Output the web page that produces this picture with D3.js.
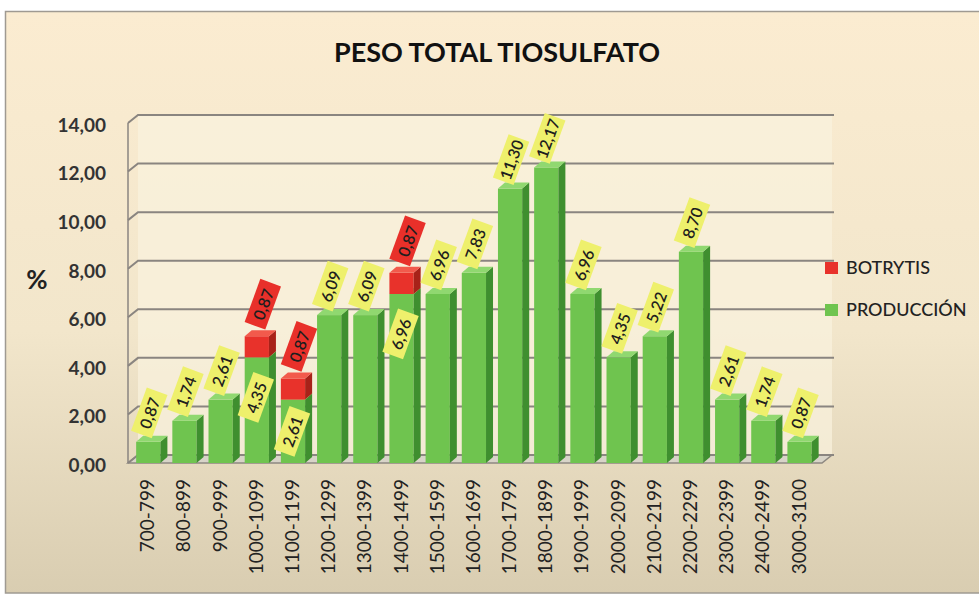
<!DOCTYPE html>
<html>
<head>
<meta charset="utf-8">
<script src="https://cdn.jsdelivr.net/npm/d3@7"></script>
<style>
  body { margin: 0; background: #fff; }
  svg { display: block; font-family: Lato, "Open Sans", sans-serif; }
</style>
</head>
<body>
<div id="chart"></div>
<script>
// categories (weight ranges) and the two stacked series
const categories = ["700-799", "800-899", "900-999", "1000-1099", "1100-1199", "1200-1299",
  "1300-1399", "1400-1499", "1500-1599", "1600-1699", "1700-1799", "1800-1899", "1900-1999",
  "2000-2099", "2100-2199", "2200-2299", "2300-2399", "2400-2499", "3000-3100"];
const produccion = [0.87, 1.74, 2.61, 4.35, 2.61, 6.09, 6.09, 6.96, 6.96, 7.83, 11.30, 12.17,
  6.96, 4.35, 5.22, 8.70, 2.61, 1.74, 0.87];
const botrytis = [0, 0, 0, 0.87, 0.87, 0, 0, 0.87, 0, 0, 0, 0, 0, 0, 0, 0, 0, 0, 0];
const yTicks = [0, 2, 4, 6, 8, 10, 12, 14];
const seriesNames = ["BOTRYTIS", "PRODUCCIÓN"];

const W = 979, H = 594;
const depth = {dx: 10, dy: 8};     // offset of the back wall
const barDepth = {dx: 7, dy: 6};   // offset of the bar side / top faces

const fmt = v => v.toFixed(2).replace(".", ",");

const svg = d3.select("#chart").append("svg")
  .attr("width", W).attr("height", H);

// background gradient
const defs = svg.append("defs");
const bg = defs.append("linearGradient").attr("id", "bg")
  .attr("x1", 0).attr("y1", 0).attr("x2", 0).attr("y2", 1);
bg.append("stop").attr("offset", "0%").attr("stop-color", "#fbecd1");
bg.append("stop").attr("offset", "55%").attr("stop-color", "#f2e6cb");
bg.append("stop").attr("offset", "100%").attr("stop-color", "#d9cdb1");

svg.append("rect")
  .attr("x", 5.5).attr("y", 11.5)
  .attr("width", W + 10).attr("height", H - 12.5)
  .attr("fill", "url(#bg)")
  .attr("stroke", "#9f9a92").attr("stroke-width", 1.5);

// scales
const x = d3.scaleBand()
  .domain(categories)
  .range([130, 130 + 36.2 * categories.length])
  .paddingInner(0.33).paddingOuter(0.17);

const y = d3.scaleLinear()
  .domain([0, 14])
  .range([463, 123]);

const wallLeft = 128, wallRight = 822;

// back wall
svg.append("path")
  .attr("d", `M${wallLeft + depth.dx},${y(14) - depth.dy} H${wallRight + depth.dx} V${y(0) - depth.dy} H${wallLeft + depth.dx} Z`)
  .attr("fill", "#faf2de").attr("opacity", 0.7);

// floor
svg.append("path")
  .attr("d", `M${wallLeft},${y(0)} L${wallLeft + depth.dx},${y(0) - depth.dy} H${wallRight + depth.dx} L${wallRight},${y(0)} Z`)
  .attr("fill", "#d8d4c8").attr("stroke", "#8d8881").attr("stroke-width", 1.5);

// gridlines (back wall + slanted side wall step)
const grid = svg.append("g").attr("fill", "none").attr("stroke", "#8a8580").attr("stroke-width", 2);
yTicks.forEach(v => {
  grid.append("path")
    .attr("d", `M${wallLeft},${y(v)} L${wallLeft + depth.dx},${y(v) - depth.dy} H${wallRight + depth.dx + 2}`);
});
grid.append("line")
  .attr("x1", wallLeft).attr("x2", wallLeft)
  .attr("y1", y(14)).attr("y2", y(0))
  .attr("stroke-width", 1.5);

// y tick labels
svg.append("g").selectAll("text")
  .data(yTicks)
  .join("text")
    .attr("x", 106)
    .attr("y", d => y(d) + 4)
    .attr("text-anchor", "end")
    .attr("dominant-baseline", "middle")
    .attr("font-size", 19)
    .attr("font-weight", 700)
    .attr("fill", "#333")
    .text(fmt);

svg.append("text")
  .attr("x", 37).attr("y", 282)
  .attr("text-anchor", "middle")
  .attr("dominant-baseline", "middle")
  .attr("font-size", 26).attr("font-weight", 700).attr("fill", "#222")
  .text("%");

// bars as stacked pseudo-3D columns
const colors = {
  prod: {front: "#6fc44f", top: "#90d870", side: "#3f8f2f"},
  bot:  {front: "#e8322b", top: "#f25a4c", side: "#a82219"}
};

function drawBlock(g, x0, w, yTop, yBot, c) {
  const {dx, dy} = barDepth;
  g.append("rect")
    .attr("x", x0).attr("y", yTop)
    .attr("width", w).attr("height", yBot - yTop)
    .attr("fill", c.front);
  g.append("path")
    .attr("d", `M${x0 + w},${yTop} L${x0 + w + dx},${yTop - dy} V${yBot - dy} L${x0 + w},${yBot} Z`)
    .attr("fill", c.side);
  g.append("path")
    .attr("d", `M${x0},${yTop} L${x0 + dx},${yTop - dy} H${x0 + w + dx} L${x0 + w},${yTop} Z`)
    .attr("fill", c.top);
}

const bars = svg.append("g");
categories.forEach((cat, i) => {
  const g = bars.append("g");
  const x0 = x(cat), w = x.bandwidth();
  drawBlock(g, x0, w, y(produccion[i]), y(0), colors.prod);
  if (botrytis[i] > 0) {
    drawBlock(g, x0, w, y(produccion[i] + botrytis[i]), y(produccion[i]), colors.bot);
  }
});

// category labels
svg.append("g").selectAll("text")
  .data(categories)
  .join("text")
    .attr("transform", d => `translate(${x(d) + x.bandwidth() / 2 + 6},479) rotate(-90)`)
    .attr("text-anchor", "end")
    .attr("font-size", 19)
    .attr("fill", "#222")
    .text(d => d);

// data labels (rotated callout boxes)
const labels = svg.append("g");
function dataLabel(cx, cy, value, fill) {
  const g = labels.append("g")
    .attr("transform", `translate(${cx},${cy}) rotate(-70)`);
  g.append("rect")
    .attr("x", -23).attr("y", -11)
    .attr("width", 46).attr("height", 22)
    .attr("fill", fill);
  g.append("text")
    .attr("text-anchor", "middle")
    .attr("dominant-baseline", "central")
    .attr("font-size", 16).attr("font-weight", 600)
    .attr("fill", "#1e1e1e")
    .text(fmt(value));
}

categories.forEach((cat, i) => {
  const cx = x(cat) + x.bandwidth() / 2 + 1;
  const top = y(produccion[i]);
  if (botrytis[i] > 0) {
    const mid = (top + y(0)) / 2;
    dataLabel(cx - 2, Math.min(mid, top + 40), produccion[i], "#eef06c");
    dataLabel(cx + 5, y(produccion[i] + botrytis[i]) - 32, botrytis[i], "#e8302a");
  } else {
    dataLabel(cx, top - 29, produccion[i], "#eef06c");
  }
});

// title
svg.append("text")
  .attr("x", 497).attr("y", 62)
  .attr("text-anchor", "middle")
  .attr("font-size", 27).attr("font-weight", 700)
  .attr("fill", "#111")
  .text("PESO TOTAL TIOSULFATO");

// legend
const legend = svg.append("g").attr("transform", "translate(825,268)");
const legendColors = [colors.bot.front, colors.prod.front];
seriesNames.forEach((name, i) => {
  const row = legend.append("g").attr("transform", `translate(0,${i * 42})`);
  row.append("rect")
    .attr("x", 0).attr("y", -6)
    .attr("width", 13).attr("height", 12)
    .attr("fill", legendColors[i]);
  row.append("text")
    .attr("x", 21).attr("y", 1)
    .attr("dominant-baseline", "middle")
    .attr("font-size", 18).attr("font-weight", 500)
    .attr("fill", "#222")
    .text(name);
});
</script>
</body>
</html>
